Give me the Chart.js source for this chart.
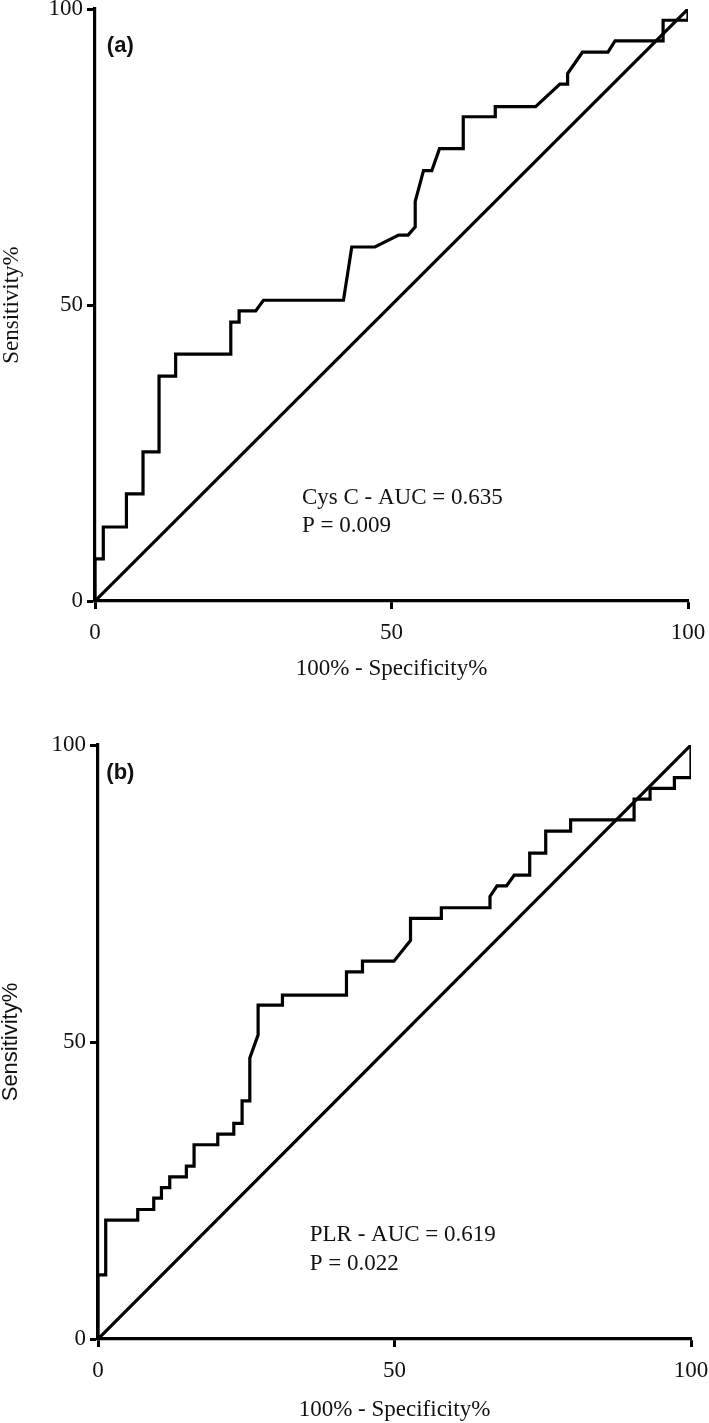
<!DOCTYPE html>
<html>
<head>
<meta charset="utf-8">
<script src="https://cdn.jsdelivr.net/npm/chart.js@4.4.1/dist/chart.umd.min.js"></script>
<style>
  html, body { margin: 0; padding: 0; background: #fff; }
  body { width: 709px; height: 1423px; position: relative; overflow: hidden; }
  .box { position: absolute; left: 0; width: 709px; }
  #boxA { top: 0; height: 710px; }
  #boxB { top: 712px; height: 711px; }
</style>
</head>
<body>
<div class="box" id="boxA"><canvas id="rocA"></canvas></div>
<div class="box" id="boxB"><canvas id="rocB"></canvas></div>
<script>
// (a) Cys C ROC curve: 100% - specificity (x) vs sensitivity (y)
const cysX = [0, 0, 1.4, 1.4, 5.3, 5.3, 8.1, 8.1, 10.8, 10.8, 13.6, 13.6, 22.9, 22.9, 24.3, 24.3,
    27.1, 28.4, 41.9, 43.3, 47.2, 51.2, 52.8, 54.0, 54.0, 55.4, 56.8, 58.1, 62.1, 62.1, 67.5, 67.5,
    74.3, 78.4, 79.7, 79.7, 82.2, 86.5, 87.7, 95.8, 95.8, 100, 100];
const cysY = [0, 7.1, 7.1, 12.5, 12.5, 18.1, 18.1, 25.2, 25.2, 38.0, 38.0, 41.7, 41.7, 47.1, 47.1, 49.0,
    49.0, 50.8, 50.8, 59.8, 59.8, 61.8, 61.8, 63.2, 67.5, 72.7, 72.7, 76.4, 76.4, 81.8, 81.8, 83.5,
    83.5, 87.3, 87.3, 89.1, 92.7, 92.7, 94.6, 94.6, 98.1, 98.1, 100];

// (b) PLR ROC curve
const plrX = [0, 0, 1.3, 1.3, 6.7, 6.7, 9.4, 9.4, 10.7, 10.7, 12.1, 12.1, 14.9, 14.9, 16.2, 16.2,
    20.2, 20.2, 22.9, 22.9, 24.3, 24.3, 25.6, 25.6, 27.0, 27.0, 31.1, 31.1, 41.9, 41.9, 44.6, 44.6,
    49.9, 52.7, 52.7, 57.9, 57.9, 66.1, 66.1, 67.3, 68.9, 70.2, 72.8, 72.8, 75.5, 75.5, 79.7, 79.7,
    90.4, 90.4, 93.1, 93.1, 97.2, 97.2, 100, 100];
const plrY = [0, 10.8, 10.8, 20.0, 20.0, 21.8, 21.8, 23.7, 23.7, 25.5, 25.5, 27.3, 27.3, 29.1, 29.1, 32.7,
    32.7, 34.5, 34.5, 36.3, 36.3, 40.1, 40.1, 47.3, 51.2, 56.2, 56.2, 57.9, 57.9, 61.8, 61.8, 63.6,
    63.6, 67.1, 70.8, 70.8, 72.6, 72.6, 74.5, 76.3, 76.3, 78.1, 78.1, 81.8, 81.8, 85.5, 85.5, 87.4,
    87.4, 90.9, 90.9, 92.7, 92.7, 94.5, 94.5, 100];

// reference line
const diagX = [0, 100];
const diagY = [0, 100];

const axisTicks = [0, 50, 100];
const xTitle = '100% - Specificity%';
const yTitle = 'Sensitivity%';

const serif = "'Liberation Serif', 'Times New Roman', serif";
const sans = "'Liberation Sans', Arial, sans-serif";

function toPoints(xs, ys) {
    let pts = [];
    for (let i = 0; i < xs.length; i++) {
        pts[i] = { x: xs[i], y: ys[i] };
    }
    return pts;
}

// writes the panel letter and the AUC / P text at data coordinates
const rocText = {
    id: 'rocText',
    afterDatasetsDraw(chart, args, opts) {
        const ctx = chart.ctx;
        const xs = chart.scales.x;
        const ys = chart.scales.y;
        ctx.save();
        ctx.fillStyle = '#111';
        ctx.textBaseline = 'middle';
        ctx.textAlign = 'left';
        (opts.items || []).forEach((it) => {
            ctx.font = it.font;
            ctx.fillText(it.text, xs.getPixelForValue(it.x), ys.getPixelForValue(it.y));
        });
        ctx.restore();
    }
};

function rocChart(id, xs, ys, cfg) {
    const ctx = document.getElementById(id);
    new Chart(ctx, {
        type: 'line',
        data: {
            datasets: [{
                data: toPoints(xs, ys),
                borderColor: '#000',
                borderWidth: 3.2,
                pointRadius: 0,
                tension: 0,
                fill: false
            }, {
                data: toPoints(diagX, diagY),
                borderColor: '#000',
                borderWidth: 3.2,
                pointRadius: 0,
                fill: false
            }]
        },
        plugins: [rocText],
        options: {
            responsive: true,
            maintainAspectRatio: false,
            animation: false,
            layout: {
                padding: { top: cfg.top, right: cfg.right, bottom: 0, left: 0 }
            },
            plugins: {
                legend: { display: false },
                tooltip: { enabled: false },
                rocText: { items: cfg.items }
            },
            scales: {
                x: {
                    type: 'linear',
                    min: 0,
                    max: 100,
                    afterBuildTicks: (s) => { s.ticks = axisTicks.map((v) => ({ value: v })); },
                    afterFit: (s) => {
                        s.height = cfg.xHeight;
                        s.paddingLeft = 0;
                        s.paddingRight = 0;
                    },
                    border: { display: true, color: '#000', width: 3.2 },
                    grid: { drawOnChartArea: false, drawTicks: true, tickLength: 8, tickWidth: 3, color: '#000' },
                    ticks: {
                        color: '#111',
                        padding: 15,
                        maxRotation: 0,
                        font: { family: serif, size: 23, lineHeight: 0.75 }
                    },
                    title: {
                        display: true,
                        text: xTitle,
                        color: '#111',
                        padding: { top: 0, bottom: cfg.xTitlePad },
                        font: { family: serif, size: 23, lineHeight: 1 }
                    }
                },
                y: {
                    type: 'linear',
                    min: 0,
                    max: 100,
                    afterBuildTicks: (s) => { s.ticks = axisTicks.map((v) => ({ value: v })); },
                    afterFit: (s) => {
                        s.width = cfg.yWidth;
                        s.paddingTop = 0;
                        s.paddingBottom = 0;
                    },
                    border: { display: true, color: '#000', width: 3.2 },
                    grid: { drawOnChartArea: false, drawTicks: true, tickLength: 8, tickWidth: 3, color: '#000' },
                    ticks: {
                        color: '#111',
                        padding: 4,
                        font: { family: serif, size: 23, lineHeight: 0.75 }
                    },
                    title: {
                        display: true,
                        text: yTitle,
                        color: '#111',
                        padding: { top: 0, bottom: 0 },
                        font: cfg.yTitleFont
                    }
                }
            }
        }
    });
}

rocChart('rocA', cysX, cysY, {
    top: 9, right: 21, xHeight: 109, yWidth: 95, xTitlePad: 30,
    yTitleFont: { family: serif, size: 23, lineHeight: 1 },
    items: [
        { text: '(a)', x: 2.0, y: 93.7, font: 'bold 22px ' + sans },
        { text: 'Cys C - AUC = 0.635', x: 34.9, y: 17.4, font: '23px ' + serif },
        { text: 'P = 0.009', x: 34.9, y: 12.7, font: '23px ' + serif }
    ]
});

rocChart('rocB', plrX, plrY, {
    top: 33, right: 18, xHeight: 84, yWidth: 98, xTitlePad: 2,
    yTitleFont: { family: sans, size: 22, lineHeight: 1 },
    items: [
        { text: '(b)', x: 1.4, y: 95.3, font: 'bold 22px ' + sans },
        { text: 'PLR - AUC = 0.619', x: 35.7, y: 17.5, font: '23px ' + serif },
        { text: 'P = 0.022', x: 35.7, y: 12.6, font: '23px ' + serif }
    ]
});
</script>
</body>
</html>
